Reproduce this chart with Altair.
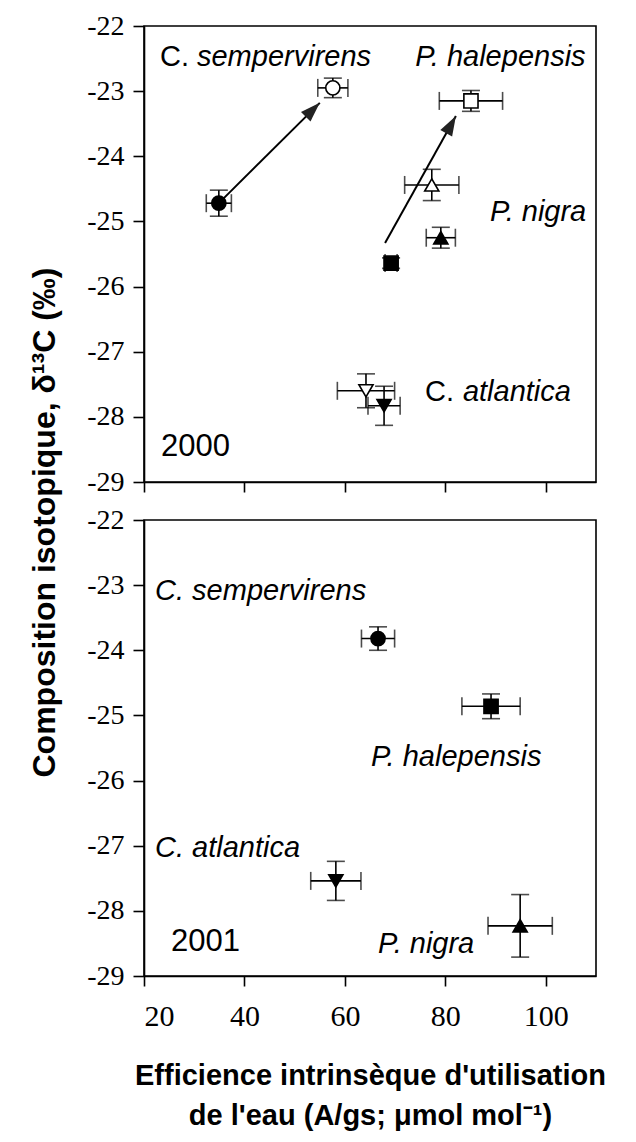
import math
import altair as alt
import pandas as pd

# ---------------- data ----------------
# 2000 panel (filled = one campaign, open = the other)
p2000_species = ["C. sempervirens", "C. sempervirens", "P. halepensis", "P. halepensis",
                 "P. nigra", "P. nigra", "C. atlantica", "C. atlantica"]
p2000_shape = ["circle", "circle", "square", "square",
               "triangle-up", "triangle-up", "triangle-down", "triangle-down"]
p2000_filled = [True, False, False, True, False, True, False, True]
p2000_x = [34.9, 57.6, 85.1, 69.2, 77.3, 79.1, 64.2, 67.8]
p2000_xerr = [2.5, 3.0, 6.3, 1.2, 5.4, 2.9, 5.7, 3.2]
p2000_y = [-24.72, -22.95, -23.15, -25.64, -24.44, -25.25, -27.60, -27.83]
p2000_yerr = [0.20, 0.15, 0.16, 0.08, 0.24, 0.16, 0.26, 0.30]

# 2001 panel
p2001_species = ["C. sempervirens", "P. halepensis", "C. atlantica", "P. nigra"]
p2001_shape = ["circle", "square", "triangle-down", "triangle-up"]
p2001_filled = [True, True, True, True]
p2001_x = [66.6, 89.1, 58.2, 94.9]
p2001_xerr = [3.3, 5.8, 5.0, 6.4]
p2001_y = [-23.82, -24.86, -27.54, -28.23]
p2001_yerr = [0.18, 0.19, 0.30, 0.48]

# arrows (2000 panel)
arrow_x_start = [35.8, 68.0]
arrow_y_start = [-24.65, -25.33]
arrow_x_end = [55.0, 82.1]
arrow_y_end = [-23.18, -23.38]

# annotations
top_upright_text = ["C.", "C."]
top_upright_x = [23.2, 75.95]
top_upright_y = [-22.61, -27.76]
top_italic_text = ["sempervirens", "P. halepensis", "P. nigra", "atlantica"]
top_italic_x = [30.55, 74.0, 88.9, 83.5]
top_italic_y = [-22.61, -22.61, -24.99, -27.76]
top_year = ["2000"]
top_year_x = [23.4]
top_year_y = [-28.60]

bot_italic_text = ["C. sempervirens", "P. halepensis", "C. atlantica", "P. nigra"]
bot_italic_x = [22.2, 65.2, 22.2, 66.6]
bot_italic_y = [-23.23, -25.78, -27.18, -28.65]
bot_year = ["2001"]
bot_year_x = [25.4]
bot_year_y = [-28.62]

x_ticks = [20, 40, 60, 80, 100]
y_ticks = [-29, -28, -27, -26, -25, -24, -23, -22]
x_domain = [20, 110]
y_domain = [-29, -22]

# ---------------- layout ----------------
W, H = 452, 456
SERIF = "Liberation Serif"
SANS = "Liberation Sans"
LBL = 29

x_title = ["Efficience intrinsèque d'utilisation", "de l'eau (A/gs; μmol mol⁻¹)"]
y_title = "Composition isotopique, δ¹³C (‰)"


def pts(species, shape, filled, x, xerr, y, yerr):
    return pd.DataFrame({
        "species": species, "shape": shape,
        "fill": ["black" if f else "white" for f in filled],
        "x": x, "xerr": xerr, "y": y, "yerr": yerr,
    })


def xenc(field, top):
    if top:
        ax = alt.Axis(values=x_ticks, labels=False, title=None, grid=False,
                      tickSize=10)
    else:
        ax = alt.Axis(values=x_ticks, title=x_title, grid=False, tickSize=10,
                      labelFont=SERIF, labelFontSize=30, labelPadding=15,
                      titleFont=SANS, titleFontWeight="bold", titleFontSize=29,
                      titleLineHeight=40, titleY=108, titleBaseline="alphabetic")
    return alt.X(field, type="quantitative",
                 scale=alt.Scale(domain=x_domain, nice=False, zero=False), axis=ax)


def yenc(field, top):
    common = dict(values=y_ticks, grid=False, tickSize=11, labelPadding=9,
                  labelFont=SERIF, labelFontSize=28,
                  labelExpr="replace(datum.label, '\u2212', '-')")
    if top:
        ax = alt.Axis(title=y_title, titleFont=SANS, titleFontWeight="bold",
                      titleFontSize=32, titleX=-90, titleY=496,
                      titleBaseline="alphabetic", titleAngle=270, **common)
    else:
        ax = alt.Axis(title=None, **common)
    return alt.Y(field, type="quantitative",
                 scale=alt.Scale(domain=y_domain, nice=False, zero=False), axis=ax)


def panel(df, texts, top, arrows=None):
    base = alt.Chart(df).transform_calculate(
        xlo="datum.x - datum.xerr", xhi="datum.x + datum.xerr",
        ylo="datum.y - datum.yerr", yhi="datum.y + datum.yerr")
    vbar = base.mark_rule(color="black", strokeWidth=1.6).encode(
        x=xenc("x", top), y=yenc("ylo", top), y2="yhi:Q")
    hbar = base.mark_rule(color="black", strokeWidth=1.6).encode(
        x=xenc("xlo", top), x2="xhi:Q", y=yenc("y", top))
    caps = []
    for f in ["ylo", "yhi"]:
        caps.append(base.mark_tick(orient="horizontal", color="black", size=18,
                                   thickness=1.6).encode(x=xenc("x", top), y=yenc(f, top)))
    for f in ["xlo", "xhi"]:
        caps.append(base.mark_tick(orient="vertical", color="black", size=18,
                                   thickness=1.6).encode(x=xenc(f, top), y=yenc("y", top)))
    marks = base.mark_point(filled=True, stroke="black", strokeWidth=1.6,
                            opacity=1, fillOpacity=1, size=200).encode(
        x=xenc("x", top), y=yenc("y", top),
        shape=alt.Shape("shape:N", scale=None),
        fill=alt.Fill("fill:N", scale=None))
    layers = [vbar, hbar] + caps
    if arrows is not None:
        layers.append(alt.Chart(arrows).mark_rule(color="black", strokeWidth=2).encode(
            x=xenc("x1", top), y=yenc("y1", top), x2="x2:Q", y2="y2:Q"))
        layers.append(alt.Chart(arrows).mark_point(
            shape="M0,0L0.75,2.2L-0.75,2.2Z", filled=True, color="#222222",
            opacity=1, size=324).encode(
            x=xenc("x2", top), y=yenc("y2", top),
            angle=alt.Angle("angle:Q", scale=None)))
    layers.append(marks)
    for (tdf, style, fs) in texts:
        layers.append(alt.Chart(tdf).mark_text(
            align="left", baseline="alphabetic", font=SANS, fontSize=fs,
            fontStyle=style, color="black").encode(
            x=xenc("x", top), y=yenc("y", top), text="t:N"))
    return alt.layer(*layers).properties(width=W, height=H)


top_df = pts(p2000_species, p2000_shape, p2000_filled, p2000_x, p2000_xerr, p2000_y, p2000_yerr)
bot_df = pts(p2001_species, p2001_shape, p2001_filled, p2001_x, p2001_xerr, p2001_y, p2001_yerr)

sx = W / (x_domain[1] - x_domain[0])
sy = H / (y_domain[1] - y_domain[0])
arrow_df = pd.DataFrame({"x1": arrow_x_start, "y1": arrow_y_start,
                         "x2": arrow_x_end, "y2": arrow_y_end})
arrow_df["angle"] = [math.degrees(math.atan2((b - a) * sx, (d - c) * sy))
                     for a, b, c, d in zip(arrow_x_start, arrow_x_end, arrow_y_start, arrow_y_end)]

top_texts = [
    (pd.DataFrame({"t": top_upright_text, "x": top_upright_x, "y": top_upright_y}), "normal", LBL),
    (pd.DataFrame({"t": top_italic_text, "x": top_italic_x, "y": top_italic_y}), "italic", LBL),
    (pd.DataFrame({"t": top_year, "x": top_year_x, "y": top_year_y}), "normal", 31),
]
bot_texts = [
    (pd.DataFrame({"t": bot_italic_text, "x": bot_italic_x, "y": bot_italic_y}), "italic", LBL),
    (pd.DataFrame({"t": bot_year, "x": bot_year_x, "y": bot_year_y}), "normal", 31),
]

top_chart = panel(top_df, top_texts, True, arrow_df)
bot_chart = panel(bot_df, bot_texts, False)

chart = alt.vconcat(top_chart, bot_chart, spacing=38, bounds="flush").properties(
    padding={"left": 19, "top": 3, "right": 5, "bottom": 5},
    background="white",
).configure_view(stroke="black", strokeWidth=1.6).configure_axis(
    domainColor="black", domainWidth=1.6, tickColor="black", tickWidth=1.6,
    labelColor="black", titleColor="black")

chart.save("out.html", embed_options={"renderer": "svg", "actions": False})
